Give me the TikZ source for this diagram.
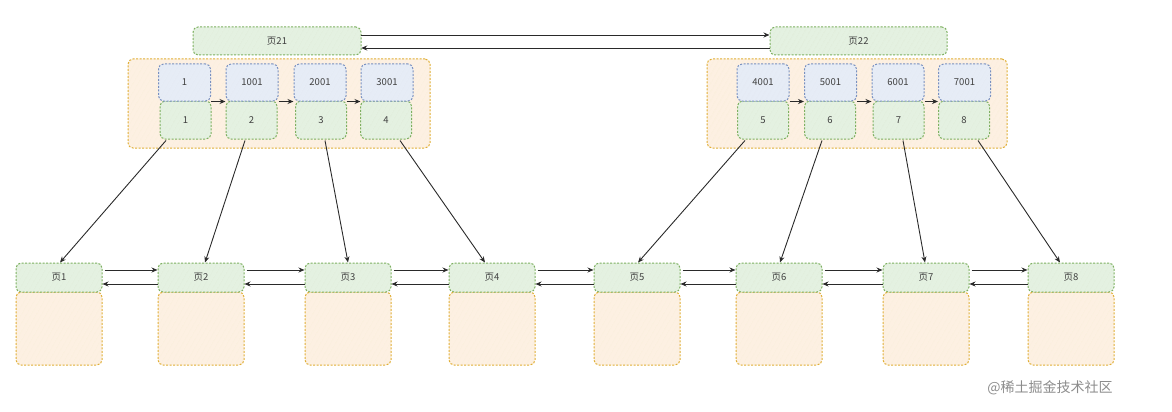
\documentclass[tikz,border=0pt]{standalone}
\usepackage{fontspec}
\setmainfont{Noto Sans CJK SC}
\usetikzlibrary{arrows.meta,patterns.meta}
\definecolor{gfill}{HTML}{E4F1E1}
\definecolor{gdraw}{HTML}{7DB060}
\definecolor{bfill}{HTML}{E6ECF6}
\definecolor{bdraw}{HTML}{7890C0}
\definecolor{ofill}{HTML}{FDF0E2}
\definecolor{odraw}{HTML}{E0AE35}
\definecolor{lnk}{HTML}{2A2A2A}
\begin{document}
\begin{tikzpicture}[x=1pt,y=-1pt,
  sk/.style={rounded corners=5pt, line width=1pt, dash pattern=on 2pt off 1.5pt,
    inner sep=0pt, font=\fontsize{9.5}{11}\selectfont, text=black!75},
  gbox/.style={sk, draw=gdraw, preaction={fill=gfill},
    pattern={Lines[angle=60,distance=4pt,line width=0.5pt]}, pattern color=gdraw!25},
  bbox/.style={sk, draw=bdraw, preaction={fill=bfill},
    pattern={Lines[angle=60,distance=4pt,line width=0.5pt]}, pattern color=bdraw!20},
  obox/.style={sk, draw=odraw, preaction={fill=ofill},
    pattern={Lines[angle=60,distance=4pt,line width=0.5pt]}, pattern color=odraw!20},
  arr/.style={draw=lnk, line width=0.9pt, -{Stealth[length=6pt,width=5pt]}},
]
\useasboundingbox (0,0) rectangle (1172,412);

% top pages
\node[gbox, minimum width=168pt, minimum height=28pt] (p21) at (277,41) {页21};
\node[gbox, minimum width=177pt, minimum height=28pt] (p22) at (858.5,41) {页22};
\draw[arr] ([yshift=6pt]p21.east) -- ([yshift=6pt]p22.west);
\draw[arr] ([yshift=-7pt]p22.west) -- ([yshift=-7pt]p21.east);

% containers
\node[obox, minimum width=302pt, minimum height=89pt] (c1) at (279,103.5) {};
\node[obox, minimum width=300pt, minimum height=89pt] (c2) at (857,103.5) {};

% keys and pointers
\foreach \i/\kx/\gx/\kl in {1/184.5/185.5/1, 2/252/251.5/1001, 3/320/321/2001, 4/387/386/3001,
                            5/763/763/4001, 6/830.5/830/5001, 7/898/898.5/6001, 8/964.5/964/7001}{
  \node[gbox, minimum width=51pt, minimum height=38pt] (g\i) at (\gx,120) {\i};
  \node[bbox, minimum width=52pt, minimum height=37pt] (k\i) at (\kx,82.5) {\kl};
}
\foreach \a/\b in {1/2,2/3,3/4,5/6,6/7,7/8}{
  \draw[arr] (k\a.south east) -- (k\b.south west);
}

% bottom pages
\foreach \i/\x in {1/59, 2/201, 3/348, 4/492, 5/637, 6/779, 7/926, 8/1071}{
  \node[obox, minimum width=86pt, minimum height=73pt] (b\i) at (\x,328.5) {};
  \node[gbox, minimum width=86pt, minimum height=29pt] (h\i) at (\x,277.5) {页\i};
}
\foreach \a/\b in {1/2,2/3,3/4,4/5,5/6,6/7,7/8}{
  \draw[arr] ([xshift=2pt,yshift=7.5pt]h\a.east) -- ([yshift=7.5pt]h\b.west);
  \draw[arr] ([yshift=-6.5pt]h\b.west) -- ([yshift=-6.5pt]h\a.east);
}

% pointers to leaf pages
\foreach \i/\s/\e in {1/-19.5/1, 2/-6.5/4, 3/4/0, 4/14/-7, 5/-18/1, 6/-8/1, 7/4.5/-1, 8/14/-11}{
  \draw[arr] ([xshift=\s pt,yshift=-1pt]g\i.south) -- ([xshift=\e pt]h\i.north);
}

\node[text=black!45, font=\fontsize{14}{16}\selectfont] (wm) at (1050,388) {@稀土掘金技术社区};
\end{tikzpicture}
\end{document}
